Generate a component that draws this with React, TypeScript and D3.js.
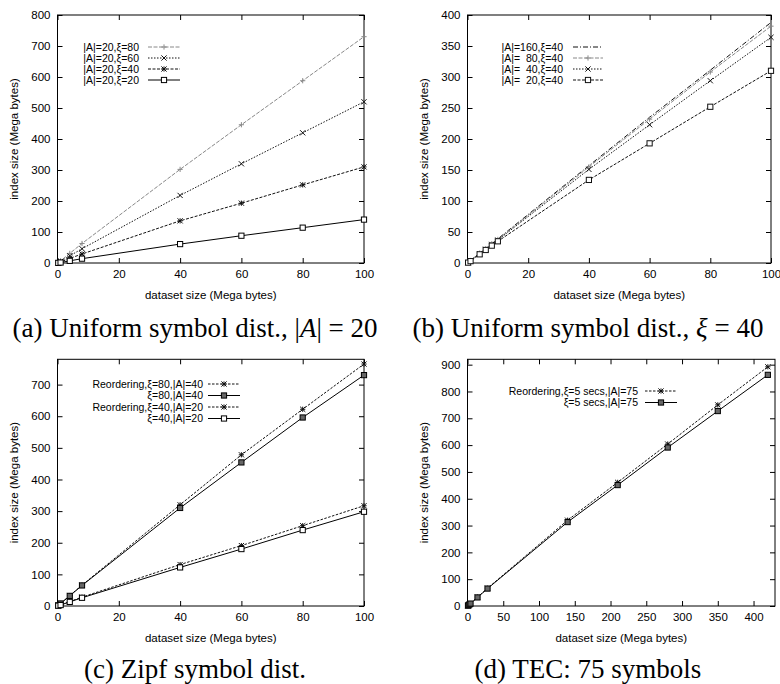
import React, { useEffect, useRef } from "react";
import * as d3 from "d3";

// (a) uniform, |A|=20
const aX = [0.25, 1, 4, 8, 40, 60, 80, 100];
const aXi80 = [2, 7, 31, 63, 302, 446, 588, 730];
const aXi60 = [1.3, 5, 23, 46, 218, 320, 420, 520];
const aXi40 = [0.8, 3, 15, 29, 136, 193, 252, 310];
const aXi20 = [0.4, 1.5, 7, 14, 61, 88, 114, 140];

// (b) uniform, xi=40
const bX = [0.2, 1, 4, 6, 8, 10, 40, 60, 80, 100];
const bA160 = [0.8, 4, 16, 23, 31, 39, 157, 235, 311, 388];
const bA80 = [0.8, 4, 16, 23, 31, 38, 155, 232, 308, 382];
const bA40 = [0.7, 4, 15, 22, 30, 37, 151, 223, 294, 364];
const bA20 = [0.6, 3, 14, 21, 28, 35, 134, 193, 252, 310];

// (c) zipf
const cX = [0.25, 1, 4, 8, 40, 60, 80, 100];
const cReo80 = [2, 8, 33, 66, 320, 478, 622, 765];
const cXi80 = [2, 8, 32, 65, 310, 454, 596, 730];
const cReo40 = [1, 4, 14, 28, 131, 191, 254, 317];
const cXi40 = [1, 3, 13, 26, 122, 180, 240, 298];

// (d) TEC
const dX = [0.7, 1.4, 2.8, 4.2, 14, 28, 140, 210, 280, 350, 420];
const dReo = [1.5, 3, 6, 9, 33, 66, 320, 461, 604, 750, 892];
const dXi = [1.4, 3, 6, 9, 32, 65, 313, 451, 591, 727, 862];

const ticks100 = [0, 20, 40, 60, 80, 100];
const ticksD = [0, 50, 100, 150, 200, 250, 300, 350, 400];

const panels = [
  {
    box: [57.5, 364, 15, 263], xd: [0, 100], yd: [0, 800], xt: ticks100, yt: d3.range(0, 801, 100),
    key: { y: 47, dy: 11, tx: 139, l0: 148, l1: 180 },
    series: [
      { name: "|A|=20,ξ=80", x: aX, y: aXi80, mk: "plus", col: "#888", dash: "4,1.5" },
      { name: "|A|=20,ξ=60", x: aX, y: aXi60, mk: "cross", col: "#111", dash: "1.5,1.5" },
      { name: "|A|=20,ξ=40", x: aX, y: aXi40, mk: "star", col: "#111", dash: "3,1.5" },
      { name: "|A|=20,ξ=20", x: aX, y: aXi20, mk: "square", col: "#000", dash: "" },
    ],
  },
  {
    box: [467.5, 771, 15, 263], xd: [0, 100], yd: [0, 400], xt: ticks100, yt: d3.range(0, 401, 50),
    key: { y: 47, dy: 11, tx: 563, l0: 573, l1: 603 },
    series: [
      { name: "|A|=160,ξ=40", x: bX, y: bA160, mk: "none", col: "#111", dash: "5,2,1,2" },
      { name: "|A|=  80,ξ=40", x: bX, y: bA80, mk: "plus", col: "#888", dash: "4,1.5" },
      { name: "|A|=  40,ξ=40", x: bX, y: bA40, mk: "cross", col: "#111", dash: "1.5,1.5" },
      { name: "|A|=  20,ξ=40", x: bX, y: bA20, mk: "square", col: "#111", dash: "3,1.5" },
    ],
  },
  {
    box: [57.5, 364, 359.3, 606], xd: [0, 100], yd: [0, 780], xt: ticks100, yt: d3.range(0, 701, 100),
    key: { y: 384, dy: 11.5, tx: 203, l0: 208, l1: 240 },
    series: [
      { name: "Reordering,ξ=80,|A|=40", x: cX, y: cReo80, mk: "star", col: "#111", dash: "2.5,1.5" },
      { name: "ξ=80,|A|=40", x: cX, y: cXi80, mk: "dsquare", col: "#000", dash: "" },
      { name: "Reordering,ξ=40,|A|=20", x: cX, y: cReo40, mk: "star", col: "#111", dash: "2.5,1.5" },
      { name: "ξ=40,|A|=20", x: cX, y: cXi40, mk: "square", col: "#000", dash: "" },
    ],
  },
  {
    box: [467.5, 775, 359.3, 606], xd: [0, 430], yd: [0, 920], xt: ticksD, yt: d3.range(0, 901, 100),
    key: { y: 391, dy: 11.5, tx: 638, l0: 645, l1: 677 },
    series: [
      { name: "Reordering,ξ=5 secs,|A|=75", x: dX, y: dReo, mk: "star", col: "#111", dash: "2.5,1.5" },
      { name: "ξ=5 secs,|A|=75", x: dX, y: dXi, mk: "dsquare", col: "#000", dash: "" },
    ],
  },
];

const FONT = "'Liberation Sans', Arial, Helvetica, sans-serif";

function marker(g: any, mk: string, cx: number, cy: number, col: string) {
  const s = 2.6;
  if (mk === "none") return;
  if (mk === "plus" || mk === "star") {
    g.append("path").attr("d", `M${cx - s},${cy}H${cx + s}M${cx},${cy - s}V${cy + s}`)
      .attr("stroke", col).attr("stroke-width", 1).attr("fill", "none");
  }
  if (mk === "cross" || mk === "star") {
    g.append("path").attr("d", `M${cx - s},${cy - s}L${cx + s},${cy + s}M${cx - s},${cy + s}L${cx + s},${cy - s}`)
      .attr("stroke", col).attr("stroke-width", 1).attr("fill", "none");
  }
  if (mk === "square" || mk === "dsquare") {
    g.append("rect").attr("x", cx - s).attr("y", cy - s).attr("width", 2 * s).attr("height", 2 * s)
      .attr("fill", mk === "dsquare" ? "#666" : "white").attr("stroke", col).attr("stroke-width", 1);
  }
}

export default function App() {
  const ref = useRef<SVGSVGElement>(null);

  useEffect(() => {
    const svg = d3.select(ref.current);
    svg.selectAll("*").remove();

    panels.forEach((p) => {
      const [l, r, t, b] = p.box;
      const x = d3.scaleLinear().domain(p.xd).range([l, r]);
      const y = d3.scaleLinear().domain(p.yd).range([b, t]);
      const g = svg.append("g");

      // axes, gnuplot style: inward ticks, mirrored
      const ax = g.append("g").attr("transform", `translate(0,${b})`)
        .call(d3.axisBottom(x).tickValues(p.xt).tickSize(-5).tickPadding(7));
      g.append("g").attr("transform", `translate(0,${t})`)
        .call(d3.axisTop(x).tickValues(p.xt).tickSize(-5).tickFormat(() => ""));
      const ay = g.append("g").attr("transform", `translate(${l},0)`)
        .call(d3.axisLeft(y).tickValues(p.yt).tickSize(-5).tickPadding(7));
      g.append("g").attr("transform", `translate(${r},0)`)
        .call(d3.axisRight(y).tickValues(p.yt).tickSize(-5).tickFormat(() => ""));
      g.selectAll(".domain").remove();
      g.selectAll(".tick line").attr("stroke", "#000");
      [ax, ay].forEach((a) => a.selectAll("text").attr("font-family", FONT).attr("font-size", 11.5).attr("fill", "#000"));

      g.append("rect").attr("x", l).attr("y", t).attr("width", r - l).attr("height", b - t)
        .attr("fill", "none").attr("stroke", "#000").attr("stroke-width", 1);

      g.append("text").attr("x", (l + r) / 2).attr("y", b + 36).attr("text-anchor", "middle")
        .attr("font-family", FONT).attr("font-size", 11.5).text("dataset size (Mega bytes)");
      g.append("text").attr("transform", `translate(${l - 40},${(t + b) / 2}) rotate(-90)`)
        .attr("text-anchor", "middle").attr("font-family", FONT).attr("font-size", 11.5)
        .text("index size (Mega bytes)");

      p.series.forEach((s, k) => {
        const pts = s.x.map((xv, i) => [x(xv), y(s.y[i])] as [number, number]);
        g.append("path").attr("d", d3.line()(pts)).attr("fill", "none")
          .attr("stroke", s.col).attr("stroke-width", 1)
          .attr("stroke-dasharray", s.dash || null);
        pts.forEach(([px, py]) => marker(g, s.mk, px, py, s.col));

        // key
        const ky = p.key.y + k * p.key.dy;
        g.append("text").attr("x", p.key.tx).attr("y", ky).attr("dy", "0.35em")
          .attr("text-anchor", "end").attr("font-family", FONT).attr("font-size", 10.5)
          .style("white-space", "pre").text(s.name);
        g.append("line").attr("x1", p.key.l0).attr("x2", p.key.l1).attr("y1", ky).attr("y2", ky)
          .attr("stroke", s.col).attr("stroke-width", 1).attr("stroke-dasharray", s.dash || null);
        marker(g, s.mk, (p.key.l0 + p.key.l1) / 2, ky, s.col);
      });
    });
  }, []);

  const cap = { fontFamily: "'Liberation Serif', 'Times New Roman', serif", fontSize: 27 };

  return (
    <div style={{ position: "absolute", left: 0, top: 0 }}>
      <svg ref={ref} width={780} height={684} style={{ display: "block", background: "white", position: "absolute" }} />
      <svg width={780} height={684} style={{ display: "block", position: "relative", pointerEvents: "none" }}>
        <text x={195} y={337} textAnchor="middle" style={cap}>
          (a) Uniform symbol dist., |<tspan fontStyle="italic">A</tspan>| = 20
        </text>
        <text x={588} y={337} textAnchor="middle" style={cap}>
          (b) Uniform symbol dist., <tspan fontStyle="italic">ξ</tspan> = 40
        </text>
        <text x={195} y={678} textAnchor="middle" style={cap}>(c) Zipf symbol dist.</text>
        <text x={588} y={678} textAnchor="middle" style={cap}>(d) TEC: 75 symbols</text>
      </svg>
    </div>
  );
}
